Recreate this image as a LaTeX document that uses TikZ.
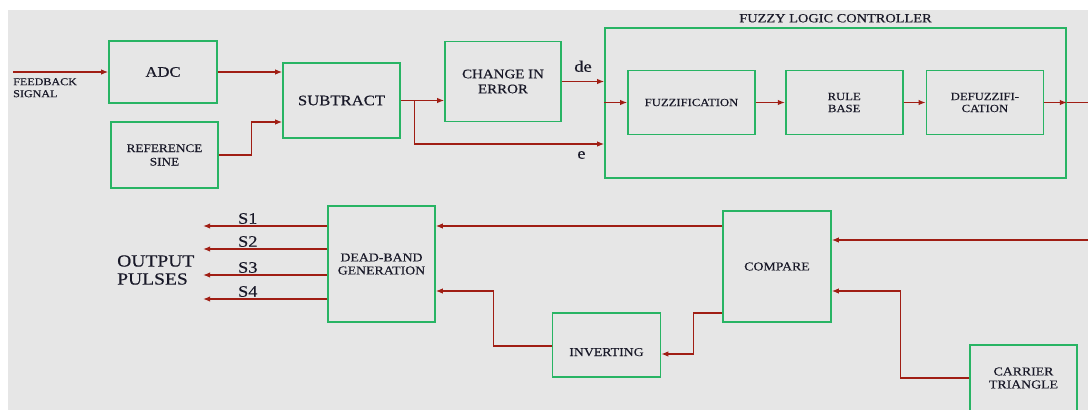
\documentclass[tikz,border=0pt]{standalone}
\usepackage{fontspec}
\setmainfont{Liberation Serif}[FakeStretch=1.15, FakeBold=0.4]
\usepackage{tikz}
\usepackage{xcolor}
\usetikzlibrary{arrows.meta,positioning}
\definecolor{flcgreen}{RGB}{40,180,100}
\definecolor{flcred}{RGB}{160,30,20}
\definecolor{flcgray}{RGB}{230,230,230}
\definecolor{flcink}{RGB}{25,25,40}
\tikzset{
  flcbox/.style={draw=flcgreen, line width=1.7pt, align=center, inner sep=2pt, text=flcink},
  flctext/.style={text=flcink, inner sep=1.5pt},
  flcarr/.style={-{Latex[length=7pt,width=5.5pt]}, line width=1.2pt, draw=flcred},
  flcline/.style={line width=1.2pt, draw=flcred}
}

\begin{document}
\begin{tikzpicture}[x=1pt, y=-1pt]
  \useasboundingbox (0,0) rectangle (1088,410);
  \fill[flcgray] (8,10) rectangle (1088,410);
  % error path
  \node[flcbox, minimum width=108pt, minimum height=62pt, font=\fontsize{14.5}{16}\selectfont] (adc) at (163,72) {ADC};
  \node[flcbox, minimum width=107pt, minimum height=66pt, font=\fontsize{11.5}{13.5}\selectfont] (refsine) at (164.5,155) {REFERENCE\\SINE};
  \node[flcbox, minimum width=117pt, minimum height=75pt, font=\fontsize{14.5}{16}\selectfont] (subtract) at (341.5,100.5) {SUBTRACT};
  \node[flcbox, minimum width=116pt, minimum height=80pt, font=\fontsize{13}{15}\selectfont] (chgerr) at (503,81.5) {CHANGE IN\\ERROR};
  \node[flctext, anchor=north west, align=left, font=\fontsize{10.5}{12}\selectfont] (fbtxt) at (11.5,76.5) {FEEDBACK\\SIGNAL};
  \coordinate (fbin) at (13,72);
  % controller
  \node[flcbox, minimum width=461pt, minimum height=150pt] (flc) at (835.5,103) {};
  \node[flctext, above=3pt of flc, font=\fontsize{12.5}{14}\selectfont] (flctitle) {FUZZY LOGIC CONTROLLER};
  \node[flcbox, minimum width=127pt, minimum height=64pt, font=\fontsize{11}{12}\selectfont] (fuzz) at (691.5,102.5) {FUZZIFICATION};
  \node[flcbox, minimum width=117pt, minimum height=64pt, font=\fontsize{11}{12}\selectfont, right=29pt of fuzz] (rule) {RULE\\BASE};
  \node[flcbox, minimum width=117pt, minimum height=64pt, font=\fontsize{11}{12}\selectfont, right=22pt of rule] (defuzz) {DEFUZZIFI-\\CATION};
  \coordinate (flcedge) at (1088,102.5);
  % pulse generation
  \node[flcbox, minimum width=107pt, minimum height=116pt, font=\fontsize{12}{13}\selectfont] (deadband) at (381.5,264) {DEAD-BAND\\GENERATION};
  \node[flcbox, minimum width=108pt, minimum height=111pt, font=\fontsize{12}{13}\selectfont] (compare) at (777,266.5) {COMPARE};
  \node[flcbox, minimum width=108pt, minimum height=64pt, text height=22pt, text depth=0pt, font=\fontsize{12}{13}\selectfont] (invert) at (606.5,345) {INVERTING};
  \node[flcbox, minimum width=107pt, minimum height=66pt, font=\fontsize{12}{13}\selectfont] (carrier) at (1023.5,378) {CARRIER\\TRIANGLE};
  \node[flctext, anchor=west, align=left, font=\fontsize{17}{18}\selectfont] (outtxt) at (115.5,270) {OUTPUT\\PULSES};
  \coordinate (pwmin) at (1088,240);

  \draw[flcarr] (fbin) -- (adc.west);
  \draw[flcarr] (adc.east) -- (adc.east -| subtract.west);
  \draw[flcarr] (refsine.east) -- ++(33,0) |- ([yshift=-21.5pt]subtract.west);
  \draw[flcarr] (subtract.east) -- (subtract.east -| chgerr.west);
  \draw[flcarr] (subtract.east) ++(14,0) |- ([yshift=-41pt]flc.west) node[pos=.94, below=5pt, flctext, font=\fontsize{16}{18}\selectfont] (elab) {e};
  \draw[flcarr] (chgerr.east) -- node[above=7.5pt, flctext, font=\fontsize{16}{18}\selectfont] (delab) {de} (chgerr.east -| flc.west);
  \draw[flcarr] (fuzz.west -| flc.west) -- (fuzz.west);
  \draw[flcarr] (fuzz) -- (rule);
  \draw[flcarr] (rule) -- (defuzz);
  \draw[flcarr] (defuzz.east) -- (defuzz.east -| flc.east);
  \draw[flcline] (defuzz.east -| flc.east) -- (flcedge);
  \draw[flcarr] (pwmin) -- ([yshift=26.5pt]compare.east);
  \draw[flcarr] ([yshift=40.5pt]compare.west) -- ([yshift=38pt]deadband.east);
  \draw[flcarr] ([yshift=-46.5pt]compare.west) -- ++(-29,0) |- ([yshift=-9pt]invert.east);
  \draw[flcarr] ([yshift=-1pt]invert.west) -- ++(-58,0) |- ([yshift=-27pt]deadband.east);
  \draw[flcarr] (carrier.west) -- ++(-69,0) |- ([yshift=-24.5pt]compare.east);
  \foreach \s/\dy in {1/38,2/15,3/-11,4/-35}
    \draw[flcarr] ([yshift=\dy pt]deadband.west) -- ++(-124,0) node[pos=.64, above, flctext, font=\fontsize{16}{18}\selectfont] (s\s) {S\s};
\end{tikzpicture}
\end{document}
